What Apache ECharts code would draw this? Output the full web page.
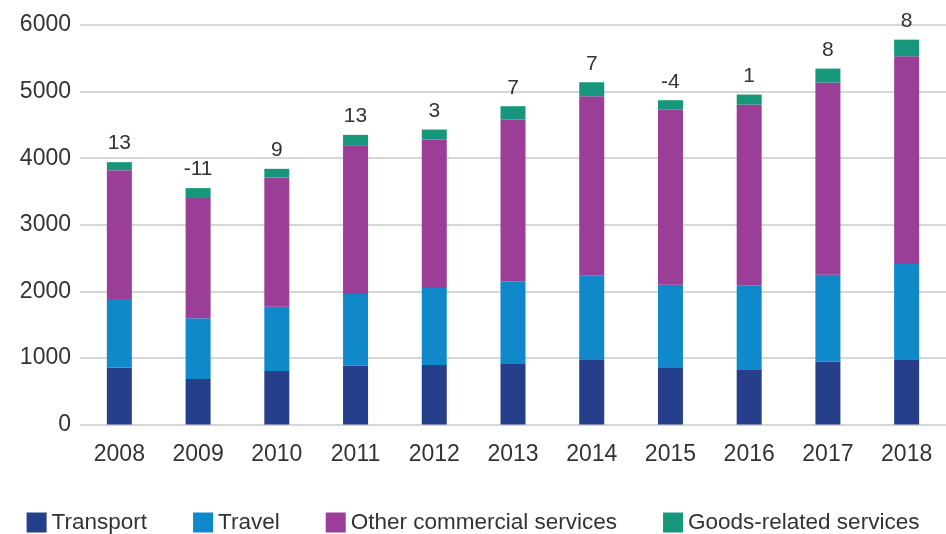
<!DOCTYPE html>
<html>
<head>
<meta charset="utf-8">
<script src="https://cdn.jsdelivr.net/npm/echarts@6/dist/echarts.min.js"></script>
<style>html,body{margin:0;padding:0;background:#fff;}#c{width:946px;height:534px;}</style>
</head>
<body>
<div id="c"></div>
<script>
const years = ['2008','2009','2010','2011','2012','2013','2014','2015','2016','2017','2018'];
const transport = [855, 685, 805, 885, 895, 920, 980, 860, 830, 945, 970];
const travel    = [1030, 910, 965, 1075, 1155, 1230, 1255, 1240, 1260, 1305, 1440];
const other     = [1935, 1805, 1940, 2225, 2230, 2430, 2695, 2630, 2715, 2885, 3120];
const goods     = [120, 150, 130, 165, 150, 200, 210, 140, 150, 210, 250];
const growth    = [13, -11, 9, 13, 3, 7, 7, -4, 1, 8, 8];
const yTicks    = [0, 1000, 2000, 3000, 4000, 5000, 6000];

const chart = echarts.init(document.getElementById('c'), null, {renderer: 'canvas'});
const font = 'Liberation Sans, Arial, sans-serif';
const mk = (name, data, color, extra) => Object.assign({
  name, type: 'bar', stack: 'total', data, barWidth: 25,
  itemStyle: {color}, emphasis: {disabled: true}
}, extra || {});

chart.setOption({
  animation: false,
  textStyle: {fontFamily: font},
  grid: {left: 80, right: -12, top: 25, bottom: 109.5},
  legend: {
    top: 506, left: 'center', itemWidth: 20, itemHeight: 20, itemGap: 46,
    icon: 'rect',
    textStyle: {fontSize: 22.5, color: '#333', fontFamily: font},
    data: ['Transport', 'Travel', 'Other commercial services', 'Goods-related services']
  },
  xAxis: {
    type: 'category', data: years,
    axisLine: {show: false}, axisTick: {show: false},
    axisLabel: {fontSize: 23, color: '#333', margin: 19}
  },
  yAxis: {
    type: 'value', min: yTicks[0], max: yTicks[yTicks.length - 1], interval: 1000,
    axisLine: {show: false}, axisTick: {show: false},
    axisLabel: {fontSize: 23, color: '#333', margin: 9, formatter: v => String(v)},
    splitLine: {lineStyle: {color: '#c8c8c8', width: 1.5}}
  },
  series: [
    mk('Transport', transport, '#263f8b'),
    mk('Travel', travel, '#1089cb'),
    mk('Other commercial services', other, '#9b3e97'),
    mk('Goods-related services', goods, '#16977b', {
      label: {
        show: true, position: 'top', distance: 8, fontSize: 21, color: '#333',
        formatter: p => String(growth[p.dataIndex])
      }
    })
  ]
});
</script>
</body>
</html>
